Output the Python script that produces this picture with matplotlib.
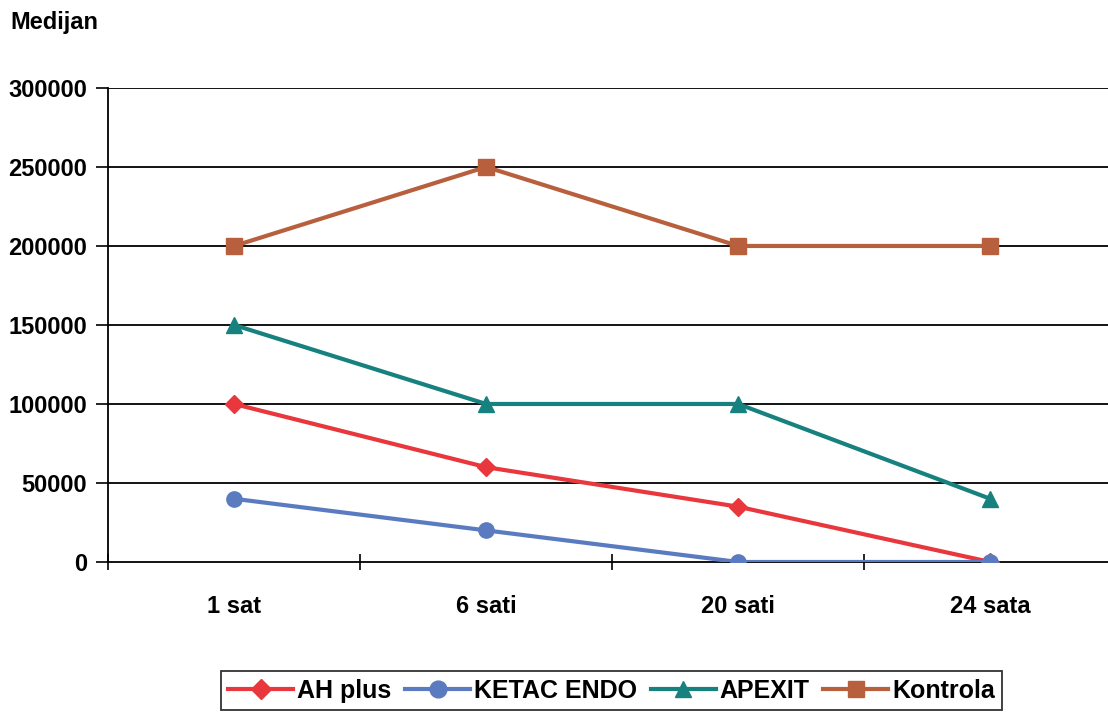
import matplotlib
matplotlib.use("Agg")
import matplotlib.pyplot as plt

plt.rcParams['font.family'] = ['Liberation Sans', 'DejaVu Sans']

categories = ["1 sat", "6 sati", "20 sati", "24 sata"]
ah_plus = [100000, 60000, 35000, 0]
ketac_endo = [40000, 20000, 0, 0]
apexit = [150000, 100000, 100000, 40000]
kontrola = [200000, 250000, 200000, 200000]
y_ticks = [0, 50000, 100000, 150000, 200000, 250000, 300000]

fig = plt.figure(figsize=(11.08, 7.15), dpi=100)
ax = fig.add_axes([0.0975, 0.214, 0.91, 0.663])

x = [i + 0.5 for i in range(len(categories))]
series = [
    ("AH plus", ah_plus, "#E8383D", "D", 9),
    ("KETAC ENDO", ketac_endo, "#5B7BC0", "o", 11),
    ("APEXIT", apexit, "#17817F", "^", 11),
    ("Kontrola", kontrola, "#B8603D", "s", 11),
]
for name, vals, col, mk, ms in series:
    ax.plot(x, vals, color=col, lw=3, marker=mk, markersize=ms, label=name, zorder=3)

ax.set_xlim(0, 4)
ax.set_ylim(0, 300000)
ax.set_yticks(y_ticks)
ax.set_yticklabels([str(v) for v in y_ticks], fontsize=17, fontweight='bold')
ax.set_xticks([0, 1, 2, 3, 4])
ax.set_xticklabels([])
ax.set_xticks(x, minor=True)
ax.set_xticklabels(categories, minor=True, fontsize=17, fontweight='bold')
ax.tick_params(axis='x', which='minor', length=0, pad=24)
ax.tick_params(axis='x', which='major', direction='inout', length=12, width=1.2)
ax.tick_params(axis='y', direction='out', length=9, width=1.2, pad=6)
for v in y_ticks[1:]:
    ax.axhline(v, color='black', lw=1.3, zorder=1)
ax.spines['top'].set_visible(False)
ax.spines['right'].set_visible(False)
ax.spines['left'].set_linewidth(1.3)
ax.spines['bottom'].set_linewidth(1.3)

fig.text(0.009, 0.969, "Medijan", fontsize=17, fontweight='bold', va='center', ha='left')

leg = fig.legend(loc='center', bbox_to_anchor=(0.552, 0.034), ncol=4, frameon=True,
                 fancybox=False, edgecolor='black', handlelength=2.6, columnspacing=0.55,
                 handletextpad=0.15, borderpad=0.3, borderaxespad=0, markerscale=1.1,
                 prop={'size': 18, 'weight': 'bold'})
leg.get_frame().set_linewidth(1.3)

fig.savefig("out.png", dpi=100)
